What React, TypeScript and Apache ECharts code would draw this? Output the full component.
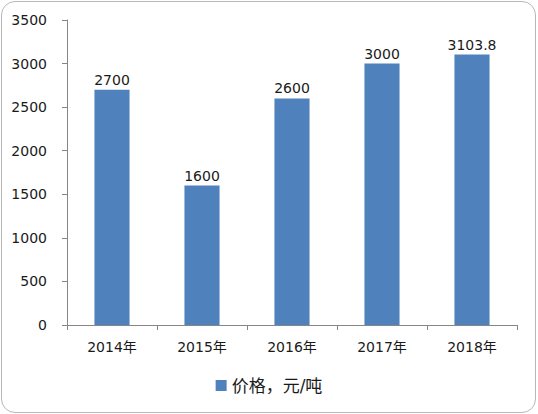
import { useRef, useEffect } from 'react'
import * as echarts from 'echarts'

const years = ['2014年', '2015年', '2016年', '2017年', '2018年']
const prices = [2700, 1600, 2600, 3000, 3103.8]
const seriesName = '价格，元/吨'

const font = '"DejaVu Sans", "Noto Sans CJK SC", sans-serif'

export default function App() {
  const chartRef = useRef<HTMLDivElement>(null)

  useEffect(() => {
    if (!chartRef.current) return
    const chart = echarts.init(chartRef.current, undefined, { renderer: 'svg' })

    const option: echarts.EChartsOption = {
      animation: false,
      backgroundColor: 'transparent',
      textStyle: { fontFamily: font, color: '#1a1a1a' },
      grid: { left: 67, right: 21, top: 20, bottom: 89 },
      legend: {
        data: [seriesName],
        top: 372,
        left: 'center',
        itemWidth: 11,
        itemHeight: 11,
        itemGap: 4,
        icon: 'rect',
        textStyle: { fontSize: 17, color: '#1a1a1a', fontFamily: font }
      },
      xAxis: {
        type: 'category',
        data: years,
        axisLine: { lineStyle: { color: '#868686' } },
        axisTick: { show: true, alignWithLabel: false, length: 5, lineStyle: { color: '#868686' } },
        axisLabel: { fontSize: 14, color: '#1a1a1a', margin: 15, fontFamily: font }
      },
      yAxis: {
        type: 'value',
        min: 0,
        max: 3500,
        interval: 500,
        splitLine: { show: false },
        axisLine: { show: true, lineStyle: { color: '#868686' } },
        axisTick: { show: true, length: 5, lineStyle: { color: '#868686' } },
        axisLabel: {
          fontSize: 14,
          color: '#1a1a1a',
          margin: 20,
          fontFamily: font,
          formatter: (v: number) => String(v)
        }
      },
      series: [
        {
          name: seriesName,
          type: 'bar',
          data: prices,
          barWidth: '39%',
          itemStyle: { color: '#4F81BD' },
          label: {
            show: true,
            position: 'top',
            distance: 3,
            fontSize: 14,
            color: '#1a1a1a',
            fontFamily: font
          }
        }
      ]
    }

    chart.setOption(option)
    return () => {
      chart.dispose()
    }
  }, [])

  return (
    <div
      style={{
        position: 'fixed',
        left: 0,
        top: 0,
        width: 538,
        height: 414,
        background: '#fff'
      }}
    >
      <div
        style={{
          position: 'absolute',
          left: 1,
          top: 1,
          width: 535,
          height: 412,
          border: '1.5px solid #b8b8b8',
          borderRadius: 14,
          boxSizing: 'border-box'
        }}
      />
      <div ref={chartRef} style={{ position: 'absolute', left: 0, top: 0, width: 538, height: 414 }} />
    </div>
  )
}
